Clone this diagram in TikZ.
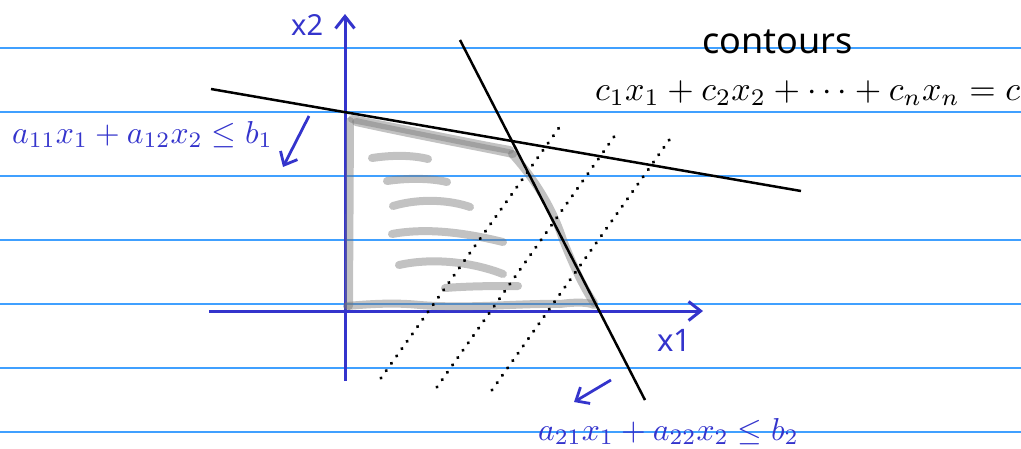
\documentclass[tikz,border=0pt]{standalone}
\usepackage{graphicx}
\usepackage{fontspec}
\newfontfamily\handfont{Noto Sans}
\usetikzlibrary{arrows.meta}
\definecolor{rulecol}{RGB}{64,160,255}
\definecolor{axisblue}{RGB}{52,52,204}
\definecolor{shadecol}{RGB}{120,120,120}
\newcommand{\bigmath}[2]{\scalebox{#1}{$#2$}}
\begin{document}
\begin{tikzpicture}[x=1pt,y=-1pt,
  ruleline/.style={draw=rulecol,line width=1.6pt},
  axisline/.style={draw=axisblue,line width=3pt,-{Straight Barb[length=12pt,width=19pt]}},
  conline/.style={draw=black,line width=2.5pt},
  contour/.style={draw=black,line width=3.6pt,line cap=round,dash pattern=on 0.01pt off 9pt},
  shadestroke/.style={draw=shadecol,draw opacity=0.45,line width=8pt,line cap=round,line join=round},
  hintarrow/.style={draw=axisblue,line width=2.8pt,-{Straight Barb[length=11pt,width=19pt]}},
  mathlab/.style={inner sep=0pt,anchor=base west},
  handlab/.style={inner sep=0pt,anchor=base west,text=axisblue}
]
\useasboundingbox (0,0) rectangle (1021,448);
% ruled paper
\foreach \yy in {48,112,176,240,304,368,432}
  \draw[ruleline] (0,\yy) -- (1021,\yy);
% axes
\coordinate (ox) at (209,311);
\coordinate (xend) at (703,311);
\coordinate (oy) at (345,381);
\coordinate (yend) at (345,14);
\draw[axisline] (ox) -- (xend);
\draw[axisline] (oy) -- (yend);
% shaded feasible region
\draw[shadestroke] (349,306) -- (350,121);
\draw[shadestroke] (352,119) .. controls (420,132) and (470,143) .. (510,150);
\draw[shadestroke] (356,122) .. controls (420,136) and (470,145) .. (513,154);
\draw[shadestroke] (512,154) .. controls (540,185) and (555,215) .. (563,240) .. controls (575,270) and (585,290) .. (594,303);
\draw[shadestroke] (347,306) .. controls (380,303) and (400,303) .. (420,305) .. controls (470,309) and (520,303) .. (560,304) .. controls (575,302) and (588,302) .. (594,305);
\draw[shadestroke] (372,158) .. controls (392,155) and (412,155) .. (428,159);
\draw[shadestroke] (387,181) .. controls (407,178) and (430,178) .. (447,182);
\draw[shadestroke] (393,206) .. controls (420,198) and (450,200) .. (470,207);
\draw[shadestroke] (392,234) .. controls (430,227) and (470,234) .. (503,242);
\draw[shadestroke] (399,265) .. controls (435,257) and (475,263) .. (503,274);
\draw[shadestroke] (445,288) .. controls (470,286) and (495,286) .. (518,286);
% constraint lines
\coordinate (c1a) at (211,89);
\coordinate (c1b) at (801,191);
\coordinate (c2a) at (460,40);
\coordinate (c2b) at (645,400);
\draw[conline] (c1a) -- (c1b);
\draw[conline] (c2a) -- (c2b);
% contour lines
\coordinate (d1a) at (381,378); \coordinate (d1b) at (561,125);
\coordinate (d2a) at (437,387); \coordinate (d2b) at (616,134);
\coordinate (d3a) at (492,390); \coordinate (d3b) at (672,136);
\draw[contour] (d1a) -- (d1b);
\draw[contour] (d2a) -- (d2b);
\draw[contour] (d3a) -- (d3b);
% direction arrows
\coordinate (h1a) at (309,116); \coordinate (h1b) at (283,167);
\coordinate (h2a) at (611,380); \coordinate (h2b) at (574,402);
\draw[hintarrow] (h1a) -- (h1b);
\draw[hintarrow] (h2a) -- (h2b);
% labels
\node[handlab,font=\handfont\fontsize{29}{34}\selectfont] (x2lab) at (291,35) {x2};
\node[handlab,font=\handfont\fontsize{31}{36}\selectfont] (x1lab) at (657,351) {x1};
\node[handlab,text=black,font=\handfont\fontsize{36}{42}\selectfont] (contlab) at (702,53) {contours};
\node[mathlab,text=axisblue] (con1) at (12,143) {\bigmath{3.17}{a_{11}x_1+a_{12}x_2\leq b_1}};
\node[mathlab,text=axisblue] (con2) at (538,440) {\bigmath{3.17}{a_{21}x_1+a_{22}x_2\leq b_2}};
\node[mathlab,text=black] (objlab) at (595,100) {\bigmath{3.4}{c_1x_1+c_2x_2+\cdots+c_nx_n=c}};
\end{tikzpicture}
\end{document}
